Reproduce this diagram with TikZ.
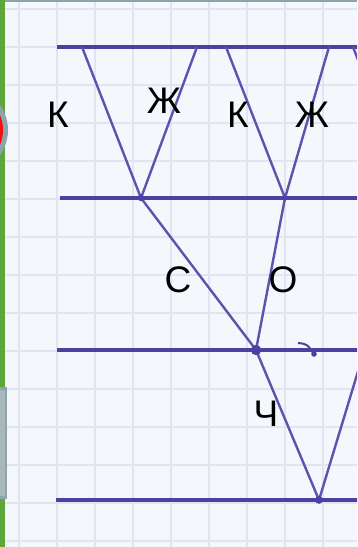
\documentclass[tikz,border=0pt]{standalone}
\usepackage{fontspec}
\setmainfont{Liberation Sans}
\definecolor{paper}{HTML}{F4F7FB}
\definecolor{gridc}{HTML}{E0E6F1}
\definecolor{ink}{HTML}{4E3FA0}
\definecolor{inkl}{HTML}{5F52AE}
\definecolor{leaf}{HTML}{5EA53A}
\definecolor{frame}{HTML}{8EA4AC}
\definecolor{framein}{HTML}{A9B9BB}
\definecolor{redc}{HTML}{F01010}
\tikzset{
  rule/.style={draw=ink, line width=3.4pt},
  branch/.style={draw=inkl, line width=2.4pt},
  knot/.style={fill=ink},
  lbl/.style={font=\fontsize{37}{37}\selectfont, inner sep=0pt, text=black}
}
\begin{document}
\begin{tikzpicture}[x=1pt,y=-1pt]
\useasboundingbox (0,0) rectangle (357,547);
\clip (0,0) rectangle (357,547);
% paper and grid
\fill[paper] (0,0) rectangle (357,547);
\foreach \gx in {19,57,...,360} \draw[gridc, line width=1.4pt] (\gx,0) -- (\gx,547);
\foreach \gy in {9,47,...,550} \draw[gridc, line width=1.4pt] (0,\gy) -- (357,\gy);
% frame pieces
\fill[frame] (0,0) rectangle (357,2);
\fill[leaf] (0,0) rectangle (5,547);
\fill[frame] (-35,130) circle (43);
\fill[redc] (-35,130) circle (38);
\fill[frame] (-5,387) rectangle (7,499);
\fill[framein] (-5,390) rectangle (4.5,496);
% vertices
\coordinate (L1a) at (57,47);  \coordinate (L1b) at (360,47);
\coordinate (L2a) at (60,198); \coordinate (L2b) at (360,198);
\coordinate (L3a) at (57,350); \coordinate (L3b) at (360,350);
\coordinate (L4a) at (56,500); \coordinate (L4b) at (360,500);
\coordinate (A1) at (82,47);  \coordinate (A2) at (197,47);
\coordinate (A3) at (226,47); \coordinate (A4) at (329,47);
\coordinate (A5) at (353,47); \coordinate (E1) at (362,70);
\coordinate (B1) at (141,198); \coordinate (B2) at (285,198);
\coordinate (C) at (256,350);  \coordinate (D) at (319,500);
\coordinate (E2) at (366,345);
\coordinate (T1) at (298,343); \coordinate (T2) at (314,354);
% horizontal rules
\draw[rule] (L1a) -- (L1b);
\draw[rule] (L2a) -- (L2b);
\draw[rule] (L3a) -- (L3b);
\draw[rule] (L4a) -- (L4b);
% branches
\draw[branch] (A1) -- (B1) -- (A2);
\draw[branch] (A3) -- (B2) -- (A4);
\draw[branch] (A5) -- (E1);
\draw[branch] (B1) -- (C) -- (B2);
\draw[branch] (C) -- (D) -- (E2);
\draw[ink, line width=2pt] (T1) .. controls (307,344) .. (T2);
% knots
\fill[knot] (B1) circle (3.2);
\fill[knot] (B2) circle (2.4);
\fill[knot] (C) circle (5.2);
\fill[knot] (D) circle (3.8);
\fill[knot] (T2) circle (2.8);
% labels
\node[lbl] (k1) at (58,115) {К};
\node[lbl] (z1) at (164,101) {Ж};
\node[lbl] (k2) at (238,115) {К};
\node[lbl] (z2) at (312,115) {Ж};
\node[lbl] (s) at (178,280) {С};
\node[lbl] (o) at (283,280) {О};
\node[lbl] (ch) at (266,414) {Ч};
\end{tikzpicture}
\end{document}
